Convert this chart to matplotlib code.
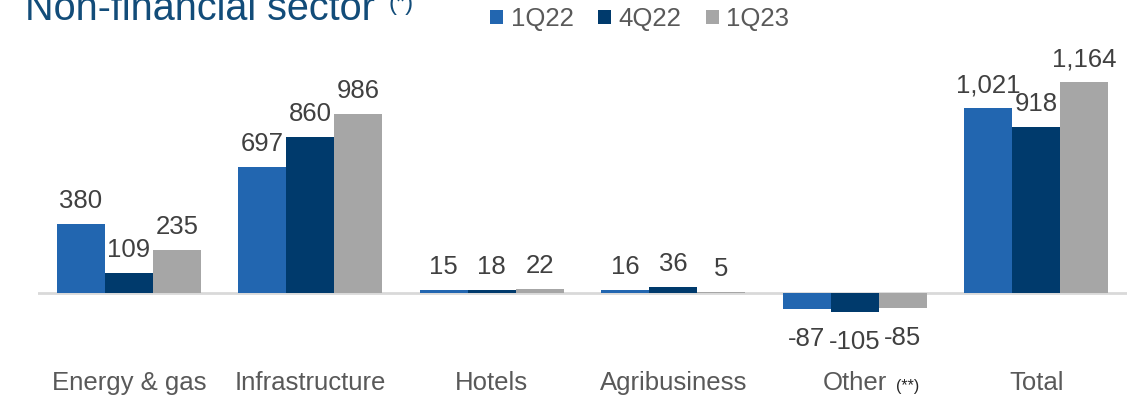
import numpy as np
import matplotlib
matplotlib.use("Agg")
import matplotlib.pyplot as plt
from matplotlib.patches import Patch

plt.rcParams['font.family'] = ['Liberation Sans', 'DejaVu Sans']

# Non-financial sector exposure by segment
categories = ["Energy & gas", "Infrastructure", "Hotels", "Agribusiness", "Other", "Total"]
periods = ["1Q22", "4Q22", "1Q23"]
q1_22 = [380, 697, 15, 16, -87, 1021]
q4_22 = [109, 860, 18, 36, -105, 918]
q1_23 = [235, 986, 22, 5, -85, 1164]

colors = ["#2266B0", "#003A6C", "#A6A6A6"]
label_color = "#404040"
axis_color = "#595959"


def fmt(v):
    return f"{v:,}"


def main():
    fig = plt.figure(figsize=(11.33, 4.0), dpi=100)
    ax = fig.add_axes([38 / 1133, 0.1768, (1127 - 38) / 1133, 0.657])

    x = np.arange(len(categories))
    width = 0.265
    series = [q1_22, q4_22, q1_23]

    for i, (vals, col) in enumerate(zip(series, colors)):
        xs = x + (i - 1) * width
        ax.bar(xs, vals, width=width, color=col, label=periods[i], zorder=2)
        for xi, v in zip(xs, vals):
            if v >= 0:
                ax.annotate(fmt(v), (xi, v), xytext=(0, 11.5), textcoords="offset points",
                            ha="center", va="baseline", fontsize=18.5, color=label_color)
            else:
                ax.annotate(fmt(v), (xi, v), xytext=(0, -13), textcoords="offset points",
                            ha="center", va="top", fontsize=18.5, color=label_color)

    ax.axhline(0, color="#D9D9D9", lw=2, zorder=1)
    ax.set_xlim(-0.5, 5.5)
    ax.set_ylim(-200, 1250)
    for s in ax.spines.values():
        s.set_visible(False)
    ax.set_yticks([])
    ax.set_xticks(x)
    ax.set_xticklabels(categories, fontsize=18.5, color=axis_color)
    ax.tick_params(axis="x", length=0, pad=30)

    # footnote marker next to "Other"
    ax.annotate("(**)", xy=(4, 0), xycoords=("data", "axes fraction"),
                xytext=(30, -36), textcoords="offset points",
                ha="left", va="top", fontsize=11.5, color="#262626")

    # title
    fig.text(25 / 1133, 1 - 20 / 400, "Non-financial sector", fontsize=28.5,
             color="#124C79", ha="left", va="baseline")
    fig.text(388 / 1133, 1 - 10 / 400, "(*)", fontsize=17,
             color="#124C79", ha="left", va="baseline")

    handles = [Patch(facecolor=c, edgecolor="none") for c in colors]
    fig.legend(handles, periods, loc="center left", bbox_to_anchor=(490 / 1133, 1 - 19 / 400),
               ncol=3, frameon=False, fontsize=18.5, handlelength=0.5, handleheight=0.5,
               handletextpad=0.3, columnspacing=0.95, labelcolor=axis_color,
               borderpad=0, borderaxespad=0)

    fig.savefig("out.png", dpi=100)


if __name__ == "__main__":
    main()
